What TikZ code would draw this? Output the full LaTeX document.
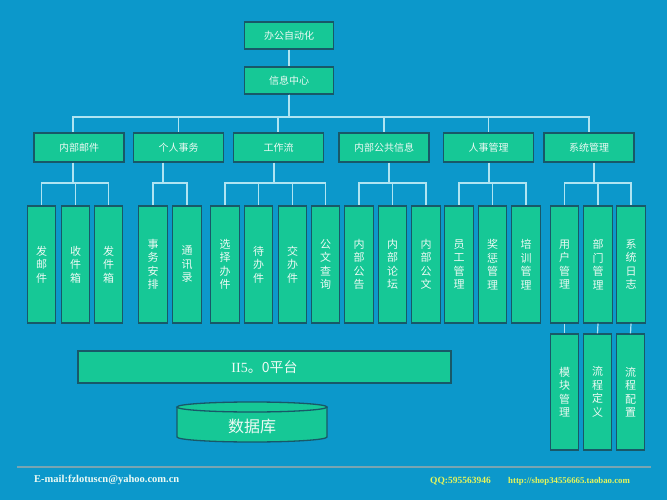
\documentclass[tikz,border=0pt]{standalone}
\usepackage{fontspec}
\newfontfamily\cjk{Noto Sans CJK SC}
\setmainfont{Liberation Serif}
\definecolor{bg}{RGB}{12,152,203}
\definecolor{boxfill}{RGB}{22,200,150}
\definecolor{boxline}{RGB}{24,88,104}
\definecolor{conn}{RGB}{175,228,242}
\definecolor{txt}{RGB}{236,250,244}
\definecolor{foot}{RGB}{120,165,178}
\definecolor{qqc}{RGB}{230,245,90}
\tikzset{
  box/.style={draw=boxline, line width=1.3pt, fill=boxfill, text=txt, inner sep=0pt, align=center},
  topbox/.style={box, minimum width=89pt, minimum height=27pt, font=\cjk\fontsize{10}{12}\selectfont},
  lvbox/.style={box, minimum width=90pt, minimum height=29pt, font=\cjk\fontsize{10}{12}\selectfont},
  leaf/.style={box, minimum width=28.5pt, minimum height=117pt, font=\cjk\fontsize{11}{13.5}\selectfont},
  conn/.style={draw=conn, line width=1.2pt},
}
\begin{document}
\begin{tikzpicture}[x=1pt,y=-1pt]
\fill[bg] (0,0) rectangle (667,500);
\useasboundingbox (0,0) rectangle (667,500);

% top
\node[topbox] (oa) at (289,35.5) {办公自动化};
\node[topbox] (info) at (289,80.5) {信息中心};
\draw[conn] (oa.south) -- (info.south |- info.north);

% level 1
\node[lvbox] (mail) at (79,147.5) {内部邮件};
\node[lvbox] (pers) at (178.5,147.5) {个人事务};
\node[lvbox] (flow) at (278.5,147.5) {工作流};
\node[lvbox] (pub) at (384,147.5) {内部公共信息};
\node[lvbox] (hr) at (488.5,147.5) {人事管理};
\node[lvbox] (sys) at (589,147.5) {系统管理};

\coordinate (t1) at (73,117);
\coordinate (t2) at (178.5,117);
\coordinate (t3) at (278,117);
\coordinate (t4) at (384,117);
\coordinate (t5) at (488.5,117);
\coordinate (t6) at (589,117);
\foreach \t/\b in {t1/mail,t2/pers,t3/flow,t4/pub,t5/hr,t6/sys}
  \draw[conn] (info.south) |- (\t) -- (\t |- \b.north);

% leaves
\node[leaf] (l1) at (41.5,264.5) {发\\邮\\件};
\node[leaf] (l2) at (75.5,264.5) {收\\件\\箱};
\node[leaf] (l3) at (108.5,264.5) {发\\件\\箱};
\node[leaf] (l4) at (153,264.5) {事\\务\\安\\排};
\node[leaf] (l5) at (187,264.5) {通\\讯\\录};
\node[leaf] (l6) at (225,264.5) {选\\择\\办\\件};
\node[leaf] (l7) at (258.5,264.5) {待\\办\\件};
\node[leaf] (l8) at (292.5,264.5) {交\\办\\件};
\node[leaf] (l9) at (325.5,264.5) {公\\文\\查\\询};
\node[leaf] (l10) at (359,264.5) {内\\部\\公\\告};
\node[leaf] (l11) at (392.5,264.5) {内\\部\\论\\坛};
\node[leaf] (l12) at (426,264.5) {内\\部\\公\\文};
\node[leaf] (l13) at (459,264.5) {员\\工\\管\\理};
\node[leaf] (l14) at (492.5,264.5) {奖\\惩\\管\\理};
\node[leaf] (l15) at (526,264.5) {培\\训\\管\\理};
\node[leaf] (l16) at (564.5,264.5) {用\\户\\管\\理};
\node[leaf] (l17) at (598,264.5) {部\\门\\管\\理};
\node[leaf] (l18) at (631,264.5) {系\\统\\日\\志};

\node[leaf, minimum height=116pt] (m1) at (564.5,392) {模\\块\\管\\理};
\node[leaf, minimum height=116pt] (m2) at (597.5,392) {流\\程\\定\\义};
\node[leaf, minimum height=116pt] (m3) at (630.5,392) {流\\程\\配\\置};

\coordinate (d1) at (73,183);
\coordinate (d2) at (163,183);
\coordinate (d3) at (274,183);
\coordinate (d4) at (389,183);
\coordinate (d5) at (489,183);
\coordinate (d6) at (594,183);
\foreach \d/\b in {d1/mail,d2/pers,d3/flow,d4/pub,d5/hr,d6/sys}
  \draw[conn] (\d |- \b.south) -- (\d);
\foreach \d/\l in {d1/l1,d1/l2,d1/l3,d2/l4,d2/l5,d3/l6,d3/l7,d3/l8,d3/l9,d4/l10,d4/l11,d4/l12,d5/l13,d5/l14,d5/l15,d6/l16,d6/l17,d6/l18}
  \draw[conn] (\d) -| (\l.north);
\draw[conn] (l16.south) -- (m1.north);
\draw[conn] (l17.south) -- (m2.north);
\draw[conn] (l18.south) -- (m3.north);

% platform
\node[box, minimum width=373pt, minimum height=32pt, font=\fontsize{14}{16}\selectfont] (plat) at (264.5,367) {II5{\cjk 。0平台}};

% database
\fill[boxfill] (177,407) -- (177,437) arc[start angle=180,end angle=360,x radius=75pt,y radius=5pt] -- (327,407) arc[start angle=0,end angle=180,x radius=75pt,y radius=5pt] -- cycle;
\draw[boxline, line width=1.3pt] (177,407) -- (177,437) arc[start angle=180,end angle=360,x radius=75pt,y radius=5pt] -- (327,407);
\draw[boxline, line width=1.3pt] (252,407) ellipse[x radius=75pt,y radius=5pt];
\node[text=txt, font=\cjk\fontsize{16}{18}\selectfont] (db) at (252,426) {数据库};

% footer
\draw[foot, line width=1.8pt] (17,467) coordinate (fl) -- (651,467) coordinate (fr);
\node[anchor=west, inner sep=0pt, text=txt, font=\bfseries\fontsize{10.5}{12}\selectfont] (mailtxt) at (34,480) {E-mail:fzlotuscn@yahoo.com.cn};
\node[anchor=west, inner sep=0pt, text=qqc, font=\bfseries\fontsize{9.5}{11}\selectfont] (qq) at (430,481) {QQ:595563946};
\node[anchor=west, inner sep=0pt, text=qqc, font=\bfseries\fontsize{8.8}{10}\selectfont] (url) at (508,481) {http://shop34556665.taobao.com};
\end{tikzpicture}
\end{document}
